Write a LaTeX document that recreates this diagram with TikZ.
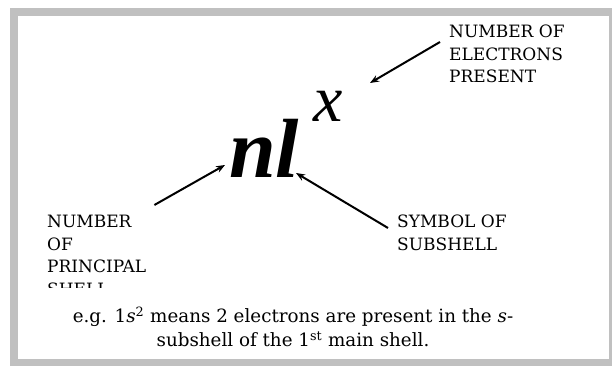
\documentclass[tikz,border=0pt]{standalone}
\usepackage{fontspec}
\usepackage{xcolor}
\usetikzlibrary{arrows.meta,positioning}
\newfontfamily\formulafont{Liberation Serif}
\newfontfamily\labelfont{DejaVu Serif}
\definecolor{FrameGray}{HTML}{C0C0C0}

\tikzset{
  label text/.style={anchor=north west,inner sep=0pt,align=left,font=\labelfont\fontsize{17}{22.5}\selectfont},
  caption text/.style={anchor=base,inner sep=0pt,font=\labelfont\fontsize{18.3}{22.5}\selectfont},
  pointer/.style={-{Stealth[length=9pt,width=7pt]},line width=2pt},
}

\begin{document}
\begin{tikzpicture}[x=1pt,y=1pt]
\path[use as bounding box] (0,0) rectangle (614,366);
\fill[FrameGray] (10,0) rectangle (612,358);
\fill[white] (18,7) rectangle (609,350);
% formula
\node[inner sep=0pt,anchor=base west,font=\formulafont\fontsize{84}{84}\selectfont\bfseries\itshape] (nl) at (229,188) {nl};
\node[inner sep=0pt,anchor=base west,font=\formulafont\fontsize{66}{66}\selectfont\itshape] (xsup) at (313,244) {x};
\coordinate (nTip) at ([shift={(-4,13)}]nl.base west);
\coordinate (lTip) at ([shift={(67,5)}]nl.base west);
\coordinate (xTip) at ([shift={(57,39)}]xsup.base west);
% labels
\node[label text] (elec) at (449,341) {NUMBER OF\\ELECTRONS\\PRESENT};
\node[label text] (subsh) at (397,151) {SYMBOL OF\\SUBSHELL};
\begin{scope}
\clip (18,78) rectangle (609,350);
\node[label text] (princ) at (47,151) {NUMBER\\OF\\PRINCIPAL\\SHELL};
\end{scope}
\draw[pointer] ([shift={(-9,-17)}]elec.north west) -- (xTip);
\draw[pointer] ([shift={(8,10)}]princ.north east) -- (nTip);
\draw[pointer] ([shift={(-9,-13)}]subsh.north west) -- (lTip);
% caption
\node[caption text] (cap1) at (293,43) {e.g. 1\textit{s}\textsuperscript{2} means 2 electrons are present in the \textit{s}-};
\node[caption text] (cap2) at (293,19) {subshell of the 1\textsuperscript{st} main shell.};
\end{tikzpicture}
\end{document}
